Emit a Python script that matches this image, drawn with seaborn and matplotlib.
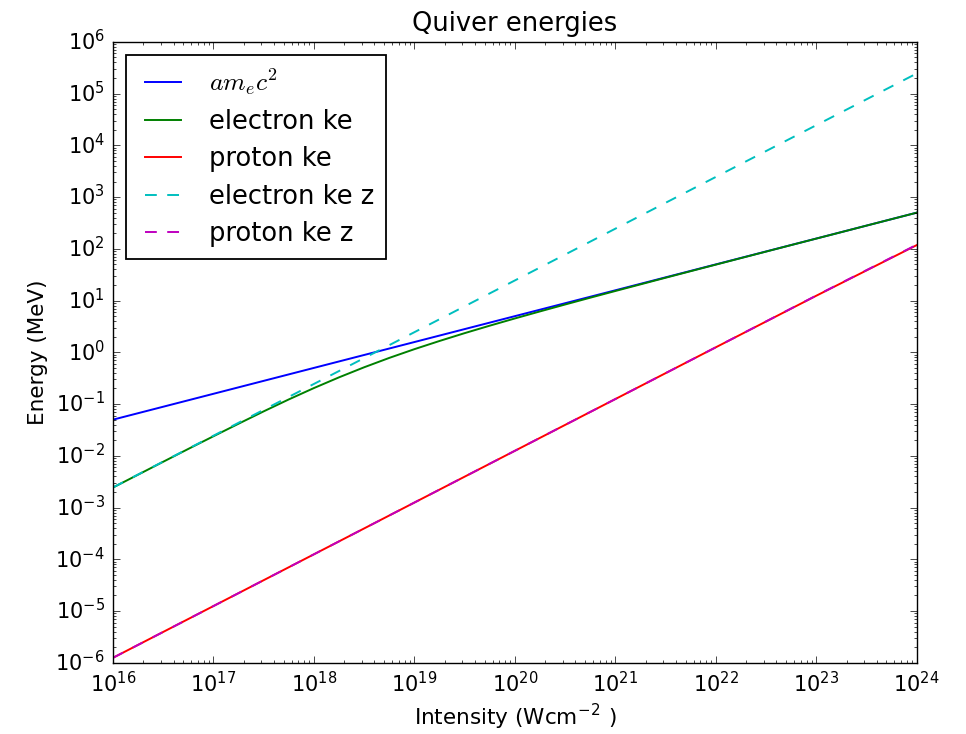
import matplotlib
matplotlib.use('Agg')
import matplotlib.pyplot as plt
import seaborn as sns

# values (MeV), intensity in W/cm^2
intensity = [1e16, 1e17, 1e18, 1e19, 1e20, 1e21, 1e22, 1e23, 1e24]
a_me_c2 = [0.05, 0.158, 0.5, 1.58, 5.0, 15.8, 50.0, 158.0, 500.0]
proton_ke = [1.25e-6, 1.25e-5, 1.25e-4, 1.25e-3, 0.0125, 0.125, 1.25, 12.4, 118.0]
electron_ke_z = [0.00245, 0.0245, 0.245, 2.45, 24.5, 245.0, 2450.0, 24500.0, 245000.0]
proton_ke_z = [1.25e-6, 1.25e-5, 1.25e-4, 1.25e-3, 0.0125, 0.125, 1.25, 12.5, 120.0]

# electron ke bends, so it is read at quarter decades
intensity_fine = [1e16, 1.78e16, 3.16e16, 5.62e16,
                  1e17, 1.78e17, 3.16e17, 5.62e17,
                  1e18, 1.78e18, 3.16e18, 5.62e18,
                  1e19, 1.78e19, 3.16e19, 5.62e19,
                  1e20, 1.78e20, 3.16e20, 5.62e20,
                  1e21, 1.78e21, 3.16e21, 5.62e21,
                  1e22, 1.78e22, 3.16e22, 5.62e22,
                  1e23, 1.78e23, 3.16e23, 5.62e23, 1e24]
electron_ke = [0.00244, 0.00433, 0.00768, 0.0136,
               0.0239, 0.0418, 0.0723, 0.123,
               0.204, 0.329, 0.514, 0.780,
               1.151, 1.658, 2.347, 3.273,
               4.515, 6.179, 8.394, 11.36,
               15.31, 20.58, 27.61, 36.98,
               49.49, 66.19, 88.39, 118.1,
               157.6, 210.3, 280.7, 374.4, 499.5]

plt.style.use('classic')
plt.rcParams['figure.facecolor'] = 'white'
plt.rcParams['savefig.facecolor'] = 'white'
plt.rcParams['mathtext.fontset'] = 'cm'
plt.rcParams['lines.scale_dashes'] = False
plt.rcParams['xtick.labelsize'] = 15
plt.rcParams['ytick.labelsize'] = 15
plt.rcParams['xtick.major.size'] = 5
plt.rcParams['ytick.major.size'] = 5
plt.rcParams['xtick.minor.size'] = 2.5
plt.rcParams['ytick.minor.size'] = 2.5
plt.rcParams['xtick.major.pad'] = 6
plt.rcParams['ytick.major.pad'] = 6

fig = plt.figure(figsize=(9.66, 7.34), dpi=100)
ax = fig.add_subplot(111)
fig.subplots_adjust(left=0.117, right=0.949, bottom=0.097, top=0.943)

lw = 1.4
dash = (0, (8, 8))
sns.lineplot(x=intensity, y=a_me_c2, ax=ax, color='b', lw=lw, label=r'$am_ec^2$')
sns.lineplot(x=intensity_fine, y=electron_ke, ax=ax, color='g', lw=lw, label='electron ke')
sns.lineplot(x=intensity, y=proton_ke, ax=ax, color='r', lw=lw, label='proton ke')
sns.lineplot(x=intensity, y=electron_ke_z, ax=ax, color='c', lw=lw, linestyle=dash,
             label='electron ke z')
sns.lineplot(x=intensity, y=proton_ke_z, ax=ax, color='m', lw=lw, linestyle=dash,
             label='proton ke z')

ax.set_xscale('log')
ax.set_yscale('log')
ax.set_xlim(1e16, 1e24)
ax.set_ylim(1e-6, 1e6)

ax.set_title('Quiver energies', fontsize=18.5, pad=8)
ax.set_xlabel(r'Intensity (Wcm$^{\mathdefault{-2}}$ )', fontsize=15.5)
ax.set_ylabel('Energy (MeV)', fontsize=15.5)

leg = ax.legend(loc='upper left', fontsize=18.5, handlelength=2.0, handletextpad=0.78,
                borderpad=0.45, labelspacing=0.45, borderaxespad=0.5, fancybox=False)
leg.get_frame().set_edgecolor('black')
leg.get_frame().set_linewidth(1.3)
for h in leg.get_lines()[3:]:
    h.set_linestyle((0, (8.5, 7.5)))

fig.savefig('out.png', dpi=100)
